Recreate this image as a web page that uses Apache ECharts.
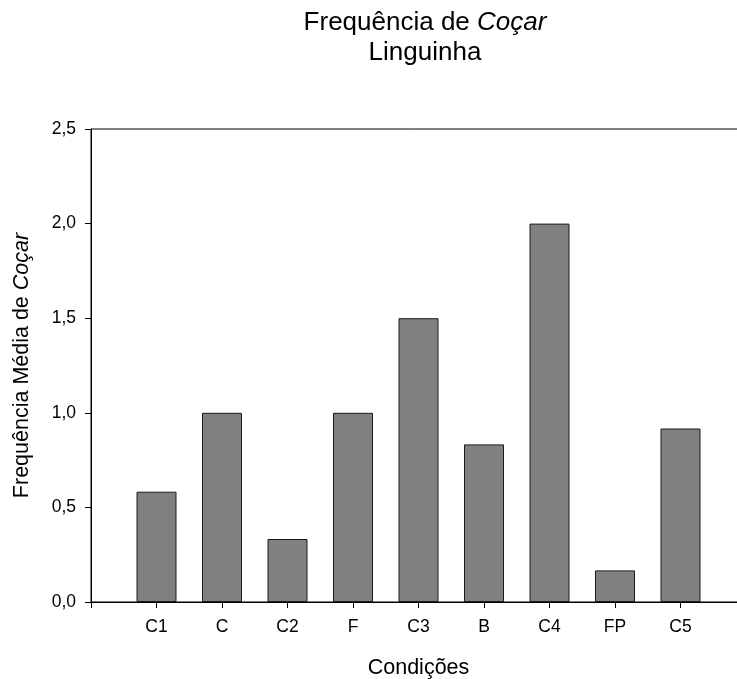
<!DOCTYPE html>
<html>
<head>
<meta charset="utf-8">
<script src="https://cdn.jsdelivr.net/npm/echarts@6/dist/echarts.min.js"></script>
<style>
  html, body { margin: 0; padding: 0; background: #fff; }
  #chart { width: 737px; height: 679px; }
</style>
</head>
<body>
<div id="chart"></div>
<script>
// Conditions along the x axis and the mean scratching frequency for each
const categories = ['C1', 'C', 'C2', 'F', 'C3', 'B', 'C4', 'FP', 'C5'];
const meanFrequency = [0.583, 1.0, 0.333, 1.0, 1.5, 0.833, 2.0, 0.167, 0.917];
const yTicks = [0, 0.5, 1.0, 1.5, 2.0, 2.5];

const FONT = '"Liberation Sans", Arial, sans-serif';

// Conditions sit at positions 1..9 on a 0..10 value scale
const barData = meanFrequency.map((v, i) => [i + 1, v]);

const chart = echarts.init(document.getElementById('chart'), null, { renderer: 'canvas' });

chart.setOption({
  animation: false,
  backgroundColor: '#fff',
  title: {
    text: '{a|Frequência de }{b|Coçar}\n{a|Linguinha}',
    left: 420,
    textAlign: 'center',
    top: 3,
    textStyle: {
      fontWeight: 'normal',
      rich: {
        a: { fontFamily: FONT, fontSize: 26, fontWeight: 'normal', color: '#000', lineHeight: 30 },
        b: { fontFamily: FONT, fontSize: 26, fontWeight: 'normal', color: '#000', fontStyle: 'italic', lineHeight: 30 }
      }
    }
  },
  grid: {
    left: 91,
    top: 129,
    bottom: 77,
    right: -9,
    outerBoundsMode: 'none',
    containLabel: false,
    show: true,
    borderColor: '#000',
    borderWidth: 1,
    backgroundColor: 'transparent'
  },
  xAxis: {
    type: 'value',
    min: 0,
    max: categories.length + 1,
    interval: 1,
    splitLine: { show: false },
    axisLine: { show: true, lineStyle: { color: '#000', width: 1 } },
    axisTick: { show: true, length: 6, lineStyle: { color: '#000' } },
    axisLabel: {
      margin: 16,
      fontFamily: FONT,
      fontSize: 17.5,
      color: '#000',
      showMinLabel: true,
      showMaxLabel: true,
      formatter: v => categories[v - 1] || ''
    },
    name: 'Condições',
    nameLocation: 'middle',
    nameGap: 55,
    nameTextStyle: { fontFamily: FONT, fontSize: 21.5, color: '#000' }
  },
  yAxis: {
    type: 'value',
    min: yTicks[0],
    max: yTicks[yTicks.length - 1],
    interval: 0.5,
    splitLine: { show: false },
    axisLine: { show: true, lineStyle: { color: '#000', width: 1 } },
    axisTick: { show: true, length: 6, lineStyle: { color: '#000' } },
    axisLabel: {
      margin: 15,
      fontFamily: FONT,
      fontSize: 17.5,
      color: '#000',
      formatter: v => v.toFixed(1).replace('.', ',')
    },
    name: '{a|Frequência Média de }{b|Coçar}',
    nameLocation: 'middle',
    nameGap: 58,
    nameTextStyle: {
      rich: {
        a: { fontFamily: FONT, fontSize: 21.5, color: '#000' },
        b: { fontFamily: FONT, fontSize: 21.5, color: '#000', fontStyle: 'italic' }
      }
    }
  },
  series: [{
    type: 'bar',
    data: barData,
    barWidth: 40,
    itemStyle: {
      color: '#808080',
      borderColor: '#1a1a1a',
      borderWidth: 1
    }
  }]
});
</script>
</body>
</html>
